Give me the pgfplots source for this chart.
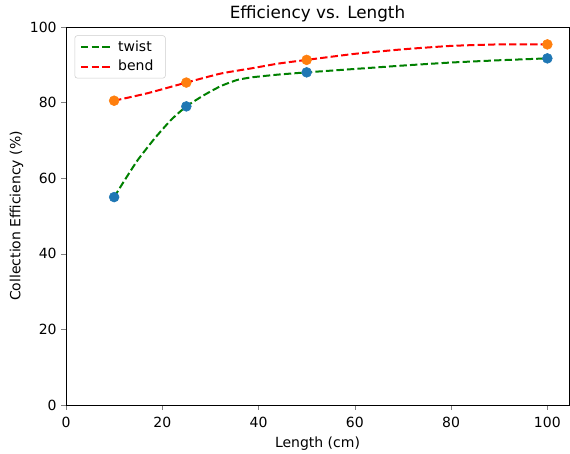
\documentclass[border=0pt]{standalone}
\usepackage{fontspec}
\setmainfont{DejaVu Sans}
\usepackage{pgfplots}
\pgfplotsset{compat=1.18}
\definecolor{mplblue}{HTML}{1F77B4}
\definecolor{mplorange}{HTML}{FF7F0E}
\definecolor{mplgreen}{HTML}{008000}
\begin{document}
\begin{tikzpicture}[x=1pt,y=1pt]
\begin{axis}[
  name=ax,
  scale only axis,
  width=377.25pt, height=283.5pt,
  xmin=0, xmax=104.5, ymin=0, ymax=100,
  xtick={0,20,40,60,80,100}, ytick={0,20,40,60,80,100},
  tick align=outside, tick pos=left,
  major tick length=3.5pt,
  tick label style={font=\fontsize{10.5}{12.5}\selectfont},
  xticklabel style={yshift=-2pt},
  /pgf/number format/assume math mode=true,
  xlabel={Length (cm)}, ylabel={Collection Efficiency (\%)},
  label style={font=\fontsize{10.5}{12.5}\selectfont},
  xlabel style={yshift=0pt},
  ylabel style={yshift=-2pt},
  title={Efficiency vs. Length},
  title style={font=\fontsize{12.6}{15}\selectfont, yshift=-6pt},
  legend style={font=\fontsize{10.5}{12.5}\selectfont, draw=black!20, rounded corners=2pt, at={(0.017,0.978)}, anchor=north west, inner xsep=4pt, inner ysep=2pt, row sep=1pt, nodes={inner xsep=5pt}},
  legend cell align=left,
  legend image code/.code={\draw[#1, line width=1.5pt] (0pt,0pt) -- (22pt,0pt);},
  axis line style={line width=0.6pt},
]
\addplot[mplgreen, line width=1.5pt, dash pattern=on 5.5pt off 2.4pt, smooth, tension=0.3] coordinates {
(10,55) (12.2,59.5) (14.9,64.8) (18.4,70.5) (21.8,75.4) (25,79) (28.7,82) (32.2,84.4) (35.6,86) (38.7,86.7) (44,87.4) (50,88) (60,88.9) (70,89.8) (80,90.6) (90,91.2) (100,91.7)};
\addlegendentry{twist}
\addplot[red, line width=1.5pt, dash pattern=on 5.5pt off 2.4pt, smooth, tension=0.3] coordinates {
(10,80.5) (17,82.5) (25,85.3) (32.2,87.7) (38.7,89.1) (44,90.3) (50,91.3) (60,92.9) (70,94.1) (80,95) (90,95.4) (100,95.4)};
\addlegendentry{bend}
\addplot[only marks, mark=*, mark size=3.7pt, mplblue, forget plot] coordinates {(10,55) (25,79) (50,88) (100,91.7)};
\addplot[only marks, mark=*, mark size=3.7pt, mplorange, forget plot] coordinates {(10,80.5) (25,85.3) (50,91.3) (100,95.4)};
\end{axis}
\pgfresetboundingbox
\path[use as bounding box] ([xshift=-49.5pt,yshift=-36pt]ax.south west) rectangle ([xshift=0.75pt,yshift=20.25pt]ax.north east);
\end{tikzpicture}
\end{document}
